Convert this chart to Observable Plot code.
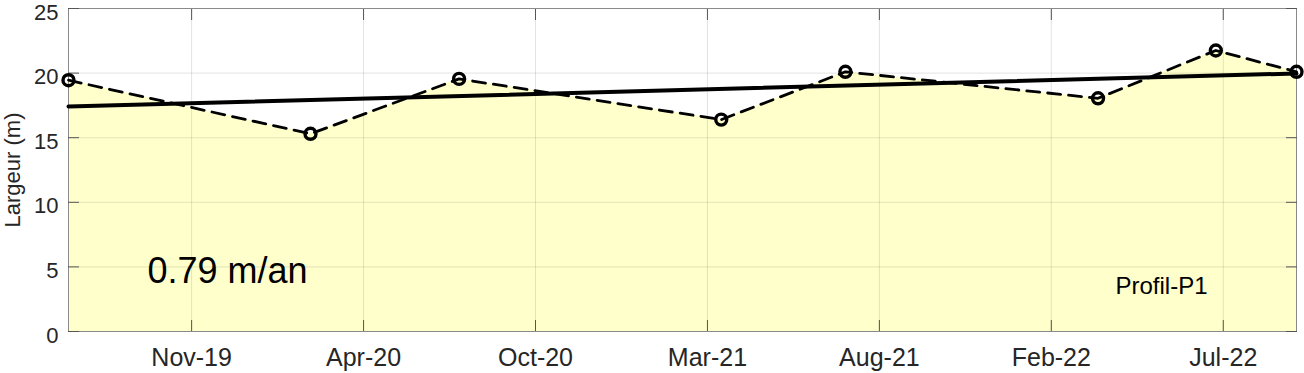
<!DOCTYPE html>
<html><head><meta charset="utf-8">
<script src="https://cdn.jsdelivr.net/npm/d3@7"></script>
<script src="https://cdn.jsdelivr.net/npm/@observablehq/plot@0.6"></script>
<style>body{margin:0;background:#fff} #chart{width:1304px;height:373px}</style>
</head><body><div id="chart"></div>
<script>
// Data
const dates = ["2019-07-22","2020-03-06","2020-07-24","2021-03-28","2021-07-23","2022-03-18","2022-07-07","2022-09-21"];
const widths = [19.45, 15.3, 19.55, 16.4, 20.1, 18.05, 21.75, 20.1];
const xTickDates = ["2019-11-15","2020-04-25","2020-10-04","2021-03-15","2021-08-24","2022-02-02","2022-07-14"];
const yTicks = [0, 5, 10, 15, 20, 25];
const rateLabel = "0.79 m/an";
const profileLabel = "Profil-P1";
const yLabel = "Largeur (m)";

const data = dates.map((d, i) => ({date: new Date(d), width: widths[i]}));
const xt = xTickDates.map(d => new Date(d));
const fmt = d3.utcFormat("%b-%y");
const axisCol = "#262626";

const chart = Plot.plot({
  width: 1304, height: 373,
  marginLeft: 68, marginRight: 8, marginTop: 8, marginBottom: 42,
  style: {fontFamily: "Liberation Sans, Arial, Helvetica, sans-serif", color: axisCol, background: "white"},
  x: {type: "utc", domain: d3.extent(data, d => d.date)},
  y: {domain: [0, 25]},
  marks: [
    Plot.areaY(data, {x: "date", y: "width", fill: "#ffffcc"}),
    Plot.gridX(xt, {stroke: axisCol, strokeOpacity: 0.13}),
    Plot.gridY(yTicks, {stroke: axisCol, strokeOpacity: 0.13}),
    Plot.frame({stroke: "#8a8a8a"}),
    Plot.axisX(xt, {anchor: "bottom", tickSize: -11, tickFormat: () => "", stroke: "#555", label: null}),
    Plot.axisX(xt, {anchor: "top", tickSize: -11, tickFormat: () => "", stroke: "#555", label: null}),
    Plot.axisY(yTicks, {anchor: "left", tickSize: -11, tickFormat: () => "", stroke: "#555", label: null}),
    Plot.axisY(yTicks, {anchor: "right", tickSize: -11, tickFormat: () => "", stroke: "#555", label: null}),
    Plot.line(data, {x: "date", y: "width", stroke: "black", strokeWidth: 2.8, strokeDasharray: "13,8"}),
    Plot.linearRegressionY(data, {x: "date", y: "width", stroke: "black", strokeWidth: 4, ci: 0}),
    Plot.dot(data, {x: "date", y: "width", r: 5.5, stroke: "black", strokeWidth: 3.4, fill: "none"}),
    Plot.axisX(xt, {anchor: "bottom", tickSize: 0, tickPadding: 17, tickFormat: fmt, fontSize: 25, label: null}),
    Plot.axisY(yTicks, {anchor: "left", tickSize: 0, tickPadding: 10, dy: 4, fontSize: 22, label: null}),
    Plot.text([rateLabel], {text: d => d, frameAnchor: "bottom-left", dx: 79, dy: -49, fontSize: 36, textAnchor: "start", lineAnchor: "bottom", fill: "black"}),
    Plot.text([profileLabel], {text: d => d, frameAnchor: "bottom-right", dx: -89, dy: -38, fontSize: 24, textAnchor: "end", lineAnchor: "bottom", fill: "black"}),
    Plot.text([yLabel], {text: d => d, frameAnchor: "left", dx: -49, rotate: -90, fontSize: 22, textAnchor: "middle", lineAnchor: "bottom", fill: axisCol})
  ]
});
document.getElementById("chart").appendChild(chart);
</script>
</body></html>
